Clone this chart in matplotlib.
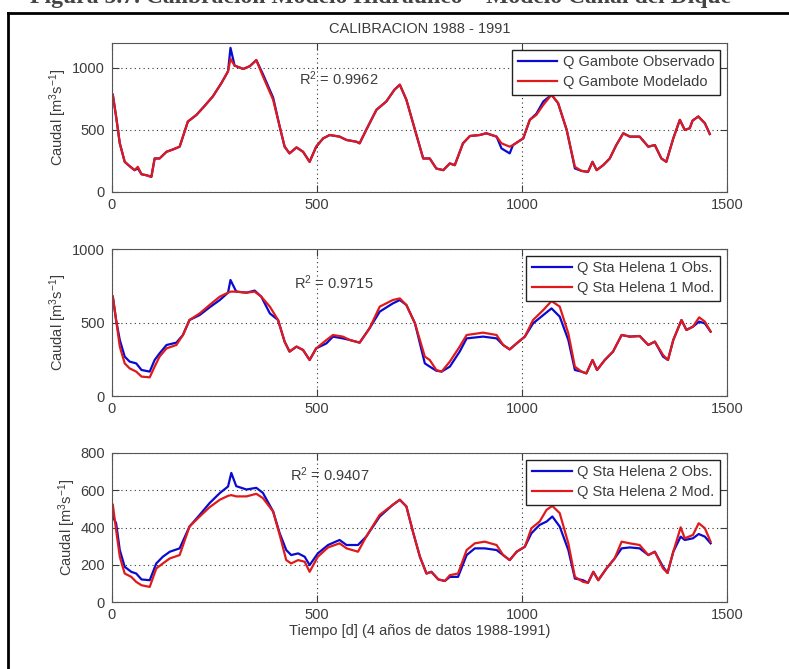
import numpy as np
import matplotlib.pyplot as plt
from matplotlib.lines import Line2D

plt.rcParams['font.family'] = ['Liberation Sans', 'DejaVu Sans']
plt.rcParams['mathtext.fontset'] = 'custom'
plt.rcParams['mathtext.rm'] = 'Liberation Sans'
plt.rcParams['mathtext.it'] = 'Liberation Sans'

# --- Gambote (panel 1) ---
dias_g = [2, 10, 19, 31, 43, 55, 63, 72, 84, 96, 104, 116, 133, 149, 165, 185, 206, 226, 246,
          267, 283, 289, 299, 320, 336, 352, 368, 393, 409, 421, 433, 450, 466, 482, 498, 515,
          531, 555, 572, 596, 604, 620, 645, 669, 689, 702, 718, 739, 759, 775, 791, 808, 824,
          836, 856, 873, 897, 913, 938, 950, 970, 978, 1003, 1019, 1035, 1052, 1072, 1088, 1109,
          1129, 1145, 1161, 1172, 1182, 1198, 1214, 1230, 1247, 1263, 1287, 1308, 1324, 1340,
          1352, 1369, 1385, 1397, 1409, 1416, 1430, 1446, 1458]
q_gamb_obs = [783, 608, 392, 243, 208, 176, 190, 143, 135, 122, 270, 270, 324, 343, 365, 567, 621,
              694, 770, 878, 972, 1161, 1018, 991, 1013, 1062, 950, 760, 527, 365, 311, 359, 324,
              243, 365, 432, 459, 446, 419, 405, 392, 500, 662, 729, 824, 864, 743, 500, 270, 270,
              189, 176, 230, 216, 392, 451, 459, 473, 446, 351, 311, 378, 432, 581, 630, 729, 783,
              716, 500, 190, 170, 162, 243, 176, 216, 270, 378, 473, 446, 446, 365, 378, 270, 243,
              432, 581, 500, 513, 575, 608, 554, 467]
q_gamb_mod = [783, 608, 392, 243, 208, 176, 203, 143, 135, 122, 270, 270, 324, 343, 365, 567, 621,
              694, 770, 878, 972, 1072, 1018, 991, 1013, 1062, 932, 743, 527, 365, 311, 359, 324,
              243, 365, 432, 459, 446, 419, 405, 392, 500, 662, 729, 824, 864, 743, 500, 270, 270,
              189, 176, 230, 216, 392, 451, 459, 473, 446, 392, 365, 378, 432, 581, 621, 702, 783,
              716, 500, 203, 170, 162, 243, 176, 216, 270, 378, 473, 446, 446, 365, 378, 270, 243,
              432, 581, 500, 513, 575, 608, 554, 467]

# --- Sta Helena 1 (panel 2) ---
dias_h1 = [2, 10, 19, 31, 43, 59, 72, 92, 104, 116, 133, 157, 173, 189, 214, 238, 263, 283, 289,
           303, 328, 348, 364, 385, 405, 421, 433, 450, 466, 482, 498, 523, 539, 563, 580, 604,
           628, 653, 685, 702, 718, 739, 763, 775, 791, 804, 824, 848, 865, 905, 938, 954, 970,
           987, 1007, 1027, 1052, 1072, 1092, 1113, 1129, 1145, 1157, 1172, 1183, 1202, 1222,
           1243, 1263, 1287, 1308, 1324, 1344, 1356, 1369, 1389, 1401, 1417, 1432, 1446, 1460]
q_h1_obs = [676, 517, 381, 268, 234, 222, 177, 166, 245, 290, 347, 363, 415, 517, 551, 603, 653,
            703, 789, 710, 703, 717, 676, 562, 517, 370, 302, 336, 313, 245, 324, 358, 404, 392,
            381, 363, 460, 574, 630, 653, 619, 494, 222, 200, 172, 166, 200, 302, 392, 404, 392,
            347, 317, 358, 404, 494, 551, 596, 540, 381, 177, 166, 154, 245, 177, 245, 302, 415,
            404, 408, 347, 370, 268, 245, 381, 517, 449, 472, 506, 494, 438]
q_h1_mod = [676, 517, 336, 222, 188, 166, 132, 127, 200, 268, 324, 347, 415, 517, 562, 619, 676,
            703, 710, 710, 703, 710, 676, 608, 517, 370, 302, 336, 313, 245, 324, 381, 415, 404,
            381, 363, 460, 608, 653, 664, 619, 494, 268, 245, 177, 166, 234, 336, 415, 431, 415,
            347, 317, 358, 404, 517, 585, 646, 608, 426, 200, 166, 154, 245, 177, 245, 302, 415,
            404, 408, 347, 370, 279, 245, 381, 517, 449, 472, 535, 506, 438]

# --- Sta Helena 2 (panel 3) ---
dias_h2 = [2, 10, 19, 31, 47, 59, 72, 92, 108, 124, 141, 165, 189, 214, 238, 263, 283, 291, 303,
           328, 352, 368, 393, 409, 425, 437, 454, 470, 482, 502, 527, 555, 572, 600, 620, 653,
           685, 702, 718, 735, 751, 767, 779, 796, 812, 824, 844, 865, 885, 909, 938, 954, 970,
           987, 1007, 1023, 1043, 1060, 1074, 1092, 1113, 1129, 1149, 1161, 1174, 1186, 1206,
           1226, 1243, 1263, 1287, 1308, 1324, 1344, 1355, 1369, 1387, 1397, 1417, 1431, 1446,
           1460]
q_h2_obs = [459, 423, 279, 189, 162, 153, 121, 117, 207, 243, 270, 288, 405, 468, 531, 585, 620,
            693, 622, 604, 613, 586, 486, 369, 279, 252, 261, 243, 198, 261, 306, 333, 306, 306,
            351, 459, 522, 549, 513, 369, 243, 153, 162, 121, 113, 135, 135, 252, 288, 288, 279,
            252, 225, 270, 297, 369, 414, 432, 459, 405, 279, 126, 117, 103, 162, 117, 180, 234,
            288, 293, 288, 252, 270, 189, 156, 270, 351, 333, 342, 365, 351, 315]
q_h2_mod = [522, 387, 243, 153, 135, 108, 90, 81, 180, 207, 234, 252, 405, 459, 509, 549, 570,
            574, 567, 567, 581, 558, 486, 360, 225, 207, 225, 216, 162, 243, 293, 315, 288, 270,
            351, 468, 522, 549, 513, 369, 243, 153, 162, 121, 113, 144, 153, 279, 315, 324, 306,
            252, 225, 270, 297, 396, 432, 495, 516, 477, 315, 135, 108, 103, 162, 117, 180, 234,
            324, 315, 306, 252, 270, 180, 156, 270, 401, 342, 360, 423, 396, 324]

paneles = [
    (dias_g, q_gamb_obs, q_gamb_mod, ['Q Gambote Observado', 'Q Gambote Modelado'],
     1200, [0, 500, 1000], 'R$^2$ = 0.9962', (455, 916)),
    (dias_h1, q_h1_obs, q_h1_mod, ['Q Sta Helena 1 Obs.', 'Q Sta Helena 1 Mod.'],
     1000, [0, 500, 1000], 'R$^2$ = 0.9715', (445, 769)),
    (dias_h2, q_h2_obs, q_h2_mod, ['Q Sta Helena 2 Obs.', 'Q Sta Helena 2 Mod.'],
     800, [0, 200, 400, 600, 800], 'R$^2$ = 0.9407', (435, 685)),
]

W, H = 789, 669
fig = plt.figure(figsize=(W / 100, H / 100), dpi=100)

# frame of the document page
fig.add_artist(Line2D([8 / W, 1], [1 - 13 / H, 1 - 13 / H], color='black', lw=2))
fig.add_artist(Line2D([8 / W, 8 / W], [0, 1 - 13 / H], color='black', lw=2))
# caption (cut off by the crop in the original)
fig.text(30 / W, 1 - 3 / H, 'Figura 5.7. Calibración Modelo Hidráulico – Modelo Canal del Dique',
         fontsize=17, fontweight='bold', family='Liberation Serif', va='baseline', ha='left',
         color='#444444')

tops = [43, 249, 453]
bots = [192, 396, 602]
gris = '#3c3c3c'
for i, (dias, obs, mod, labs, ymax, yt, r2, r2pos) in enumerate(paneles):
    ax = fig.add_axes([112 / W, 1 - bots[i] / H, 615 / W, (bots[i] - tops[i]) / H])
    ax.plot(dias, obs, color='#0a0ad0', lw=1.6, label=labs[0])
    ax.plot(dias, mod, color='#e01a1a', lw=1.6, label=labs[1])
    ax.set_xlim(0, 1500)
    ax.set_ylim(0, ymax)
    ax.set_xticks([0, 500, 1000, 1500])
    ax.set_yticks(yt)
    ax.grid(True, linestyle=(0, (1, 3)), color='#333333', lw=0.8)
    ax.tick_params(direction='in', length=5, top=True, right=True, labelsize=10.5,
                   colors=gris, labelcolor=gris, pad=5)
    ax.tick_params(axis='x', pad=4)
    for s in ax.spines.values():
        s.set_color('#555555')
    ax.set_ylabel('Caudal [m$^3$s$^{-1}$]', fontsize=10.5, color=gris, labelpad=2)
    ax.text(r2pos[0], r2pos[1], r2, fontsize=10.5, color=gris, va='center')
    leg = ax.legend(loc='upper right', fontsize=10.5, fancybox=False, framealpha=1,
                    edgecolor='#222222', handlelength=2.7, borderaxespad=0.45,
                    labelspacing=0.4, borderpad=0.4, handletextpad=0.4)
    leg.get_frame().set_linewidth(1.0)
    for t in leg.get_texts():
        t.set_color(gris)
    if i == 0:
        ax.set_title('CALIBRACION 1988 - 1991', fontsize=10.5, color=gris, pad=7)
    if i == 2:
        ax.set_xlabel('Tiempo [d] (4 años de datos 1988-1991)', fontsize=10.5, color=gris,
                      labelpad=2)

fig.savefig('out.png', dpi=100)
